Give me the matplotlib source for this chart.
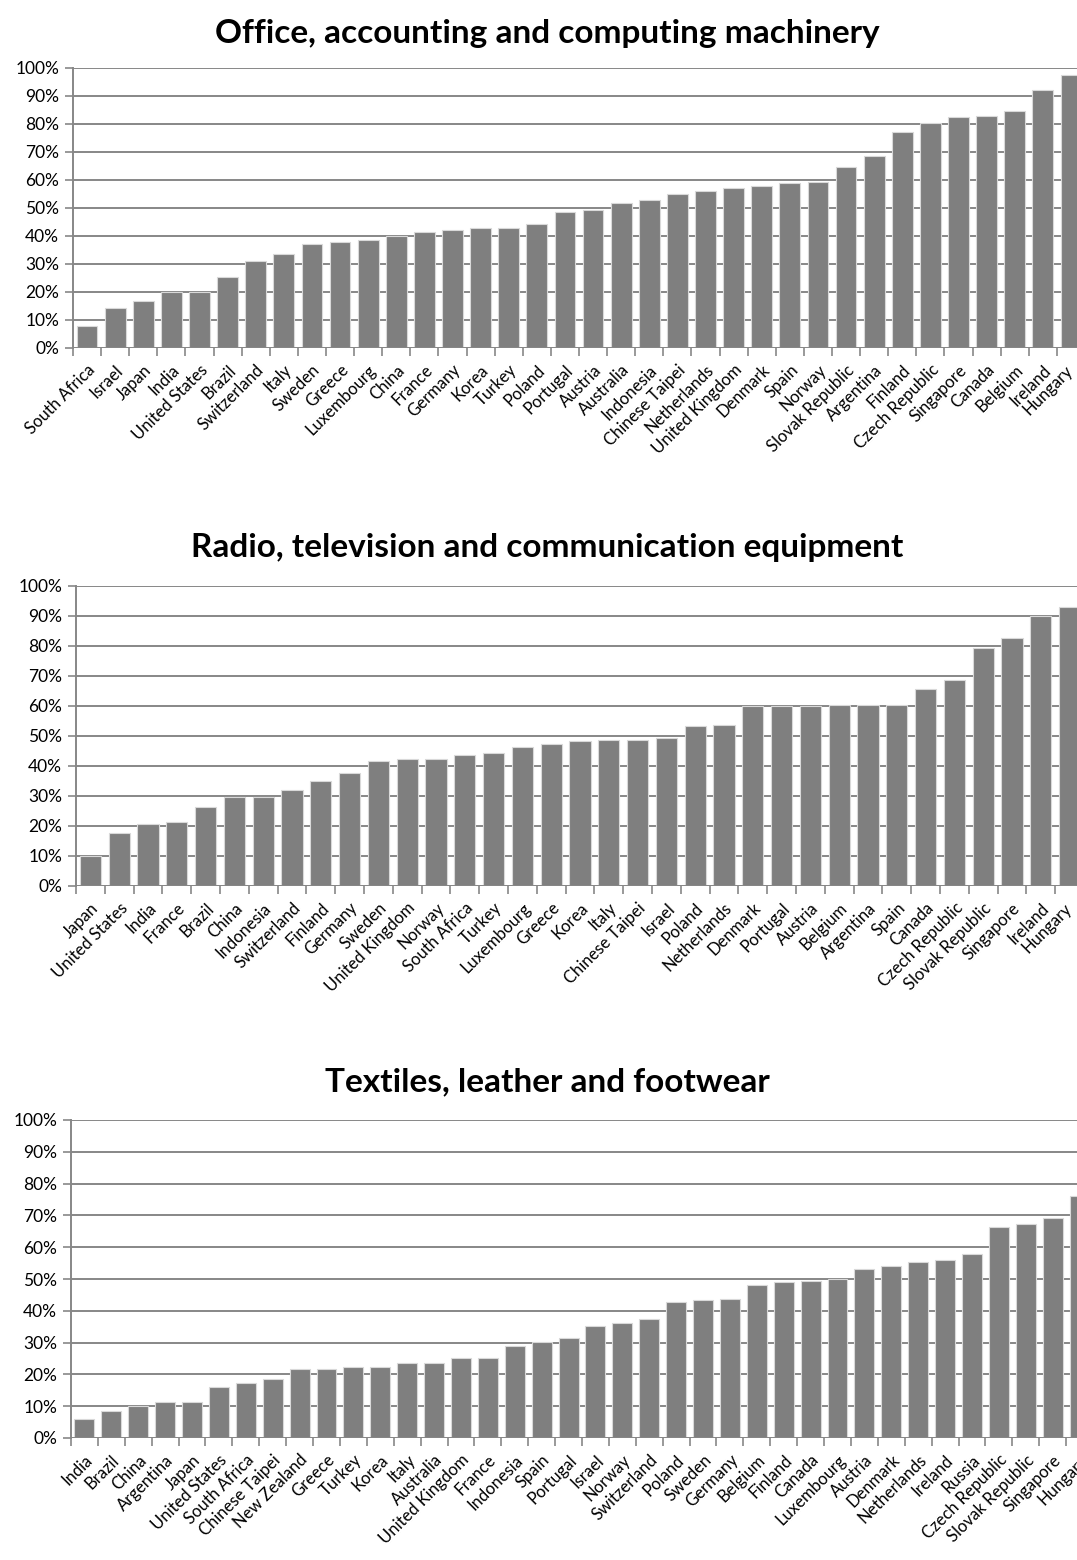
import matplotlib
matplotlib.use("Agg")
import matplotlib.pyplot as plt
import matplotlib.transforms as mtransforms
from matplotlib.ticker import FixedLocator, PercentFormatter
import numpy as np

plt.rcParams['font.family'] = ['Lato', 'DejaVu Sans']

# ---------------- data ----------------
title1 = "Office, accounting and computing machinery"
countries1 = ["South Africa", "Israel", "Japan", "India", "United States", "Brazil",
              "Switzerland", "Italy", "Sweden", "Greece", "Luxembourg", "China",
              "France", "Germany", "Korea", "Turkey", "Poland", "Portugal", "Austria",
              "Australia", "Indonesia", "Chinese Taipei", "Netherlands",
              "United Kingdom", "Denmark", "Spain", "Norway", "Slovak Republic",
              "Argentina", "Finland", "Czech Republic", "Singapore", "Canada",
              "Belgium", "Ireland", "Hungary"]
values1 = [7.8, 14.2, 16.9, 20.0, 20.0, 25.4, 30.9, 33.7, 37.2, 37.8, 38.4, 40.0,
           41.6, 42.2, 42.7, 42.7, 44.3, 48.7, 49.3, 51.9, 53.0, 55.1, 56.2,
           57.3, 57.9, 58.8, 59.4, 64.8, 68.5, 77.1, 80.5, 82.4, 83.0,
           84.6, 92.1, 97.5]

title2 = "Radio, television and communication equipment"
countries2 = ["Japan", "United States", "India", "France", "Brazil", "China",
              "Indonesia", "Switzerland", "Finland", "Germany", "Sweden",
              "United Kingdom", "Norway", "South Africa", "Turkey", "Luxembourg",
              "Greece", "Korea", "Italy", "Chinese Taipei", "Israel", "Poland",
              "Netherlands", "Denmark", "Portugal", "Austria", "Belgium",
              "Argentina", "Spain", "Canada", "Czech Republic", "Slovak Republic",
              "Singapore", "Ireland", "Hungary"]
values2 = [10.0, 17.8, 20.8, 21.4, 26.3, 29.8, 29.8, 31.9, 34.9, 37.8, 41.8,
           42.4, 42.4, 43.8, 44.3, 46.3, 47.3, 48.3, 48.7, 48.7, 49.3, 53.3,
           53.7, 59.9, 59.9, 59.9, 60.2, 60.2, 60.2, 65.8, 68.8, 79.2,
           82.7, 89.9, 93.1]

title3 = "Textiles, leather and footwear"
countries3 = ["India", "Brazil", "China", "Argentina", "Japan", "United States",
              "South Africa", "Chinese Taipei", "New Zealand", "Greece", "Turkey",
              "Korea", "Italy", "Australia", "United Kingdom", "France", "Indonesia",
              "Spain", "Portugal", "Israel", "Norway", "Switzerland", "Poland",
              "Sweden", "Germany", "Belgium", "Finland", "Canada", "Luxembourg",
              "Austria", "Denmark", "Netherlands", "Ireland", "Russia",
              "Czech Republic", "Slovak Republic", "Singapore", "Hungary"]
values3 = [5.9, 8.4, 10.0, 11.3, 11.3, 16.0, 17.4, 18.4, 21.8, 21.8, 22.2, 22.2,
           23.6, 23.6, 25.1, 25.1, 28.9, 30.3, 31.3, 35.1, 36.1, 37.5, 42.7,
           43.3, 43.7, 48.0, 48.9, 49.5, 49.9, 53.3, 54.2, 55.2, 56.1, 58.0,
           66.2, 67.2, 69.1, 76.1]

y_ticks = [0, 10, 20, 30, 40, 50, 60, 70, 80, 90, 100]

# ---------------- layout ----------------
W, H = 1077, 1560
fig = plt.figure(figsize=(W / 100, H / 100), dpi=100)

BAR = "#7f7f7f"
GRID = "#878787"
LABEL_PAD = 10  # points
LABEL_SIZE = 12

# pixel boxes: left, right, top, bottom ; title y ; shift of last label (px)
boxes = [
    (73, 1085, 68, 348, 33, -6),
    (76, 1084, 586, 886, 548, -6),
    (71, 1093, 1120, 1438, 1082, 0),
]
charts = [(title1, countries1, values1), (title2, countries2, values2),
          (title3, countries3, values3)]

for (l, r, t, b, ty, shift), (title, cats, vals) in zip(boxes, charts):
    ax = fig.add_axes([l / W, 1 - b / H, (r - l) / W, (b - t) / H])
    n = len(cats)
    x = np.arange(n)
    ax.bar(x, vals, width=0.74, color=BAR, edgecolor="#d9d9d9", linewidth=0.8,
           zorder=3)
    ax.set_xlim(-0.5, n - 0.5)
    ax.set_ylim(0, 100)
    ax.yaxis.set_major_locator(FixedLocator(y_ticks))
    ax.yaxis.set_major_formatter(PercentFormatter(decimals=0))
    ax.grid(axis="y", color=GRID, linewidth=1.4, zorder=0)
    for s in ["top", "right", "bottom"]:
        ax.spines[s].set_visible(False)
    ax.spines["left"].set_color(GRID)
    ax.spines["left"].set_linewidth(1.4)
    ax.axhline(0, color=GRID, linewidth=1.4, zorder=4)
    ax.tick_params(axis="y", length=6, width=1.2, color=GRID, labelsize=12.5,
                   labelcolor="#000000", pad=4)
    # category labels at centres, tick marks at boundaries
    ax.set_xticks(x)
    shown = list(cats)
    if shift:
        shown[-1] = ""
    ax.set_xticklabels(shown, rotation=45, ha="right", va="top",
                       rotation_mode="anchor", fontsize=LABEL_SIZE)
    if shift:
        off = mtransforms.ScaledTranslation(shift / 100, -LABEL_PAD / 72,
                                            fig.dpi_scale_trans)
        tr = mtransforms.blended_transform_factory(ax.transData, ax.transAxes) + off
        ax.text(n - 1, 0, cats[-1], transform=tr, rotation=45, ha="right",
                va="top", rotation_mode="anchor", fontsize=LABEL_SIZE,
                clip_on=False)
    ax.tick_params(axis="x", which="major", length=0, pad=LABEL_PAD)
    ax.set_xticks(np.arange(n) - 0.5, minor=True)
    ax.tick_params(axis="x", which="minor", length=6, width=1.2, color=GRID)
    fig.text(0.508, 1 - ty / H, title, ha="center", va="center",
             fontsize=24, fontweight="bold")

fig.savefig("out.png", dpi=100)
